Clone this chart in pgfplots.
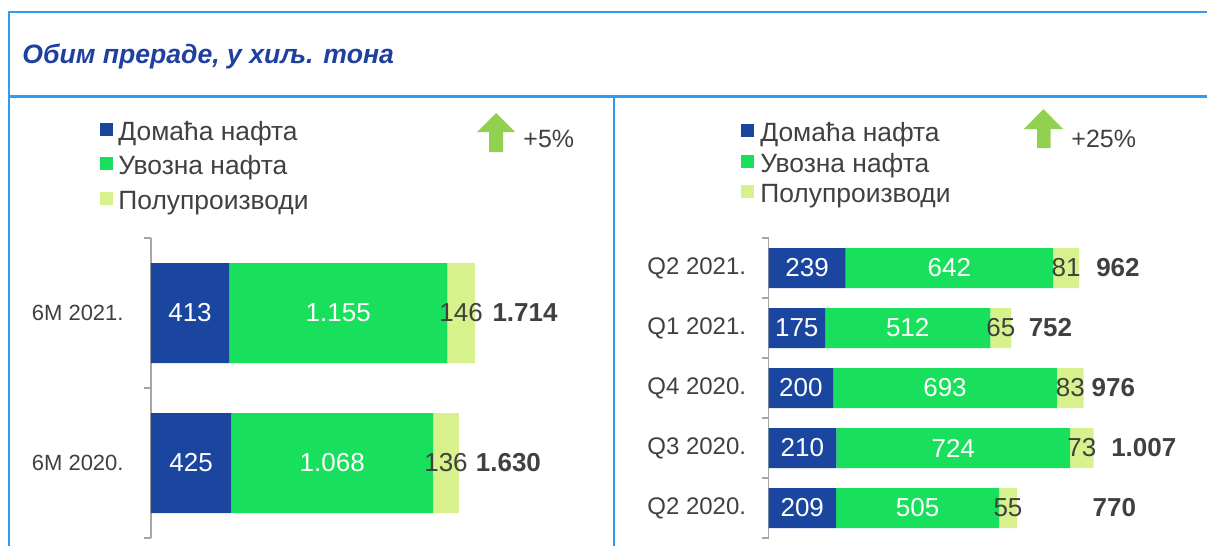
\documentclass[border=0pt]{standalone}
\usepackage{fontspec}
\setmainfont{Liberation Sans}
\usepackage{pgfplots}
\pgfplotsset{compat=1.18}
\usepackage{pgfplotstable}
\definecolor{ink}{HTML}{404040}
\definecolor{cblue}{HTML}{1A46A0}
\definecolor{cgreen}{HTML}{19E05C}
\definecolor{clight}{HTML}{D7F28C}
\definecolor{carrow}{HTML}{92D050}
\definecolor{frame}{HTML}{2F9BF5}
\definecolor{titleblue}{HTML}{1F40A0}
\definecolor{axgray}{HTML}{A6A6A6}

% 6M: pos 0 = 6M 2020, pos 1 = 6M 2021; lx = where the total is written
\pgfplotstableread{
pos dom imp semi total lx
0 425 1068 136 1630 1891
1 413 1155 146 1714 1979
}\sixm

% quarters, bottom to top
\pgfplotstableread{
pos dom imp semi total lx
0 209 505 55 770 1071
1 210 724 73 1007 1162
2 200 693 83 976 1068
3 175 512 65 752 873
4 239 642 81 962 1082
}\quart

\pgfplotsset{
  geo/.style={scale only axis, anchor=south west, xmin=0, ymin=-0.5,
    enlargelimits=false, clip=false},
  bars/.style={geo, xbar stacked,
    axis x line=none, axis y line*=left,
    y axis line style={draw=axgray, line width=0.8pt},
    ytick style={draw=axgray, line width=0.8pt},
    major tick length=0pt, minor tick length=3.5pt, tick align=outside,
    yticklabel style={color=ink, inner sep=0pt},
    point meta=explicit,
    nodes near coords={\pgfmathprintnumber{\pgfplotspointmeta}},
    every node near coord/.append style={font=\fontsize{13}{15}\selectfont, text=white},
    /pgf/number format/1000 sep={.},
    /pgf/number format/assume math mode=true,
    legend style={draw=none, fill=none, anchor=north west, inner sep=0pt,
      font=\fontsize{13.2}{15}\selectfont, text=ink,
      nodes={inner sep=0pt, text height=9.5pt, text depth=3pt}},
    legend cell align=left,
    legend image code/.code={\fill[##1] (0pt,-1pt) rectangle (6.5pt,5.5pt);},
  },
  totals/.style={geo, hide axis, point meta=explicit,
    nodes near coords={\bfseries\pgfmathprintnumber{\pgfplotspointmeta}},
    nodes near coords align=center,
    every node near coord/.append style={font=\fontsize{13}{15}\selectfont, text=ink, anchor=center},
    /pgf/number format/1000 sep={.},
    /pgf/number format/assume math mode=true},
}

\begin{document}
\begin{tikzpicture}
\useasboundingbox (0,0) rectangle (603.5pt,-273pt);
% frame
\draw[frame, line width=0.6pt] (4.5pt,-273pt) -- (4.5pt,-6pt) -- (603.5pt,-6pt);
\draw[frame, line width=1.4pt] (4.5pt,-48.2pt) -- (603.5pt,-48.2pt);
\draw[frame, line width=0.6pt] (307pt,-48.2pt) -- (307pt,-273pt);
\node[anchor=base west, text=titleblue, inner sep=0pt,
  font=\fontsize{13.3}{15}\selectfont\bfseries\itshape] at (11pt,-31.8pt)
  {Обим прераде, у хиљ. тона};

% left panel
\begin{axis}[bars, at={(75.5pt,-269pt)}, width=226.8pt, height=150pt,
  xmax=2400, ymax=1.5, bar width=50pt,
  ytick={0,1}, yticklabels={6M 2020., 6M 2021.}, minor ytick={-0.5,0.5,1.5},
  yticklabel style={font=\fontsize{11}{13}\selectfont, xshift=-13.5pt},
  legend style={at={(-0.1124,1.39)}, row sep=4.75pt,
    /tikz/every odd column/.append style={column sep=2.5pt}}]
\addplot[fill=cblue, draw=none] table[x=dom, y=pos, meta=dom] {\sixm};
\addplot[fill=cgreen, draw=none] table[x=imp, y=pos, meta=imp] {\sixm};
\addplot[fill=clight, draw=none, every node near coord/.append style={text=ink}]
  table[x=semi, y=pos, meta=semi] {\sixm};
\legend{Домаћа нафта, Увозна нафта, Полупроизводи}
\end{axis}
\begin{axis}[totals, at={(75.5pt,-269pt)}, width=226.8pt, height=150pt,
  xmax=2400, ymax=1.5]
\addplot[draw=none, mark=none] table[x=lx, y=pos, meta=total] {\sixm};
\end{axis}

% right panel
\begin{axis}[bars, at={(384.25pt,-269pt)}, width=218pt, height=150pt,
  xmax=1350, ymax=4.5, bar width=20pt,
  ytick={0,1,2,3,4},
  yticklabels={Q2 2020., Q3 2020., Q4 2020., Q1 2021., Q2 2021.},
  minor ytick={-0.5,0.5,1.5,2.5,3.5,4.5},
  yticklabel style={font=\fontsize{12}{14}\selectfont, xshift=-11pt},
  legend style={at={(-0.0631,1.385)}, row sep=2.75pt,
    /tikz/every odd column/.append style={column sep=3pt}}]
\addplot[fill=cblue, draw=none] table[x=dom, y=pos, meta=dom] {\quart};
\addplot[fill=cgreen, draw=none] table[x=imp, y=pos, meta=imp] {\quart};
\addplot[fill=clight, draw=none, every node near coord/.append style={text=ink}]
  table[x=semi, y=pos, meta=semi] {\quart};
\legend{Домаћа нафта, Увозна нафта, Полупроизводи}
\end{axis}
\begin{axis}[totals, at={(384.25pt,-269pt)}, width=218pt, height=150pt,
  xmax=1350, ymax=4.5]
\addplot[draw=none, mark=none] table[x=lx, y=pos, meta=total] {\quart};
\end{axis}

% growth arrows
\fill[carrow] (248pt,-56.5pt) -- (257.5pt,-66pt) -- (251.5pt,-66pt) -- (251.5pt,-76pt)
  -- (244.5pt,-76pt) -- (244.5pt,-66pt) -- (238.5pt,-66pt) -- cycle;
\node[anchor=base west, inner sep=0pt, text=ink, font=\fontsize{12.5}{15}\selectfont]
  at (261.5pt,-73.5pt) {+5\%};
\fill[carrow] (521.75pt,-54.5pt) -- (531.5pt,-64.5pt) -- (525.25pt,-64.5pt) -- (525.25pt,-74pt)
  -- (518.5pt,-74pt) -- (518.5pt,-64.5pt) -- (512pt,-64.5pt) -- cycle;
\node[anchor=base west, inner sep=0pt, text=ink, font=\fontsize{12.5}{15}\selectfont]
  at (535.5pt,-74pt) {+25\%};
\end{tikzpicture}
\end{document}
